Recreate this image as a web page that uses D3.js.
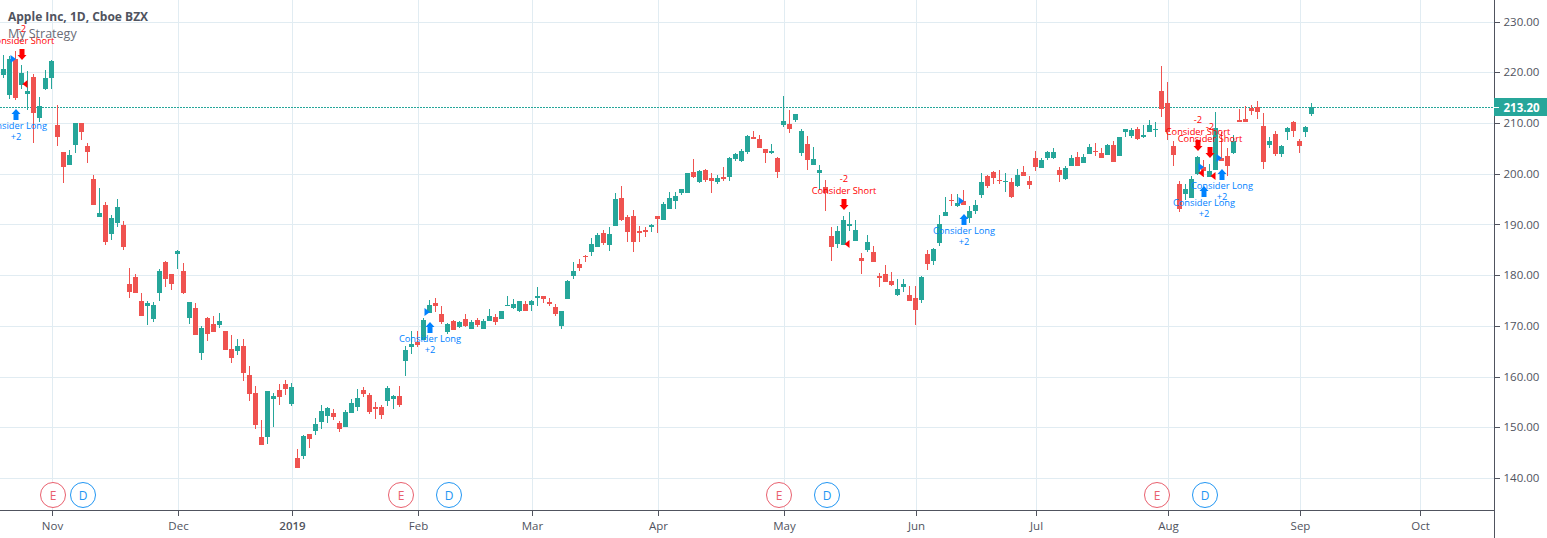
<!DOCTYPE html>
<html>
<head>
<meta charset="utf-8">
<script src="https://cdn.jsdelivr.net/npm/d3@7/dist/d3.min.js"></script>
<style>
  html, body { margin: 0; padding: 0; background: #fff; overflow: hidden; }
  text { font-family: "Open Sans", sans-serif; }
</style>
</head>
<body>
<svg id="chart" width="1547" height="538"></svg>
<script>
// Daily candles, AAPL
const opens = [
  219.55,215.61,222.64,217.58,215.81,219.16,211.08,216.79,218.96,209.69,
  204.37,201.81,205.75,210.09,205.55,199.05,191.56,193.92,188.20,190.37,
  189.98,178.34,179.72,174.99,174.01,171.44,176.57,182.68,180.32,184.26,
  180.91,171.64,173.61,164.74,171.64,170.46,170.26,169.08,165.53,165.13,
  166.12,160.40,156.85,148.18,148.18,155.67,157.44,158.63,154.68,144.04,
  144.43,148.77,149.36,151.14,152.32,152.91,150.94,150.15,152.91,154.10,
  157.45,156.46,154.10,154.10,155.28,155.68,156.27,163.17,165.93,166.91,
  167.31,172.63,174.60,172.43,168.89,171.05,169.87,171.45,169.48,171.25,
  169.48,171.05,171.84,171.45,174.01,173.62,173.03,174.41,174.21,175.59,
  175.98,174.80,173.82,170.07,175.39,179.93,182.29,183.94,184.66,185.65,
  188.41,186.04,189.79,195.31,191.56,191.76,188.80,189.00,189.59,191.76,
  190.97,193.14,194.72,196.29,196.29,200.43,198.46,200.83,199.25,198.46,
  199.45,199.45,203.00,202.60,204.38,207.33,206.94,204.97,204.18,203.19,
  209.70,209.90,210.69,204.18,205.95,201.81,200.24,197.48,187.81,186.24,
  186.04,189.79,186.83,183.48,185.05,184.66,179.93,180.32,178.94,176.18,
  177.76,176.18,175.59,175.20,184.27,182.89,186.43,191.76,194.91,193.73,
  194.72,191.36,192.74,195.90,199.64,200.43,198.86,198.46,198.46,197.67,
  200.43,198.66,203.19,201.22,203.19,203.19,200.83,199.05,201.62,203.39,
  202.21,203.98,204.57,204.18,203.79,205.76,203.59,208.32,207.53,208.91,
  207.34,208.32,208.72,216.40,214.03,205.55,198.06,196.09,195.30,200.03,
  201.41,199.44,200.82,203.19,203.58,204.17,210.68,210.88,213.05,213.24,
  209.50,205.75,207.92,203.98,208.31,210.29,206.54,208.31,211.86
];
const highs = [
  223.50,223.30,224.28,221.52,220.34,219.75,215.22,220.54,222.51,213.64,
  204.37,204.77,210.09,210.09,206.15,199.84,197.27,194.51,191.95,195.11,
  190.77,181.50,180.32,176.57,174.99,174.79,181.30,182.88,180.32,185.05,
  182.48,174.79,174.60,170.06,171.84,172.03,172.63,169.08,168.29,167.50,
  167.50,162.18,158.23,151.53,157.25,156.85,158.63,159.42,158.83,145.81,
  148.57,148.77,151.92,154.49,154.09,153.70,151.33,153.51,155.67,157.65,
  158.04,156.86,155.08,154.49,158.24,156.46,158.24,166.13,169.08,169.08,
  171.65,175.20,175.59,174.01,170.66,171.25,171.05,172.43,171.25,171.65,
  171.45,173.42,172.43,173.03,175.98,175.39,175.00,175.00,175.20,177.76,
  175.98,175.59,174.41,173.03,179.14,182.69,183.28,184.07,187.42,188.41,
  189.00,189.59,196.29,197.67,191.95,192.94,189.79,189.59,190.18,191.76,
  194.52,196.49,196.49,197.08,200.24,203.00,200.83,201.02,200.24,199.84,
  201.42,203.39,204.18,204.97,207.73,208.52,207.73,204.97,205.95,203.39,
  215.42,212.66,211.87,208.91,207.53,205.36,201.81,198.86,189.59,189.79,
  191.76,192.55,190.97,184.46,188.01,185.84,180.52,182.10,180.72,179.34,
  179.34,177.96,177.96,179.93,185.05,185.45,191.95,195.50,196.10,196.10,
  196.88,193.73,194.91,200.24,199.84,200.63,200.83,200.24,199.25,201.03,
  201.62,199.65,204.57,203.19,204.57,205.17,201.42,201.62,203.79,204.38,
  203.98,205.95,206.15,205.17,205.95,206.55,207.34,208.91,209.11,209.31,
  209.70,210.69,210.29,221.33,218.17,206.54,198.65,198.06,199.64,203.58,
  202.79,202.01,212.26,208.31,205.16,207.72,212.85,213.44,213.64,214.43,
  212.06,207.33,208.51,205.75,209.30,210.48,206.93,209.50,214.03
];
const lows = [
  219.03,214.82,214.62,216.79,212.65,206.15,210.29,216.60,216.79,205.55,
  198.26,201.81,204.17,206.74,202.20,193.92,191.56,186.04,187.02,189.58,
  185.05,175.58,176.57,172.03,170.26,170.85,174.99,177.75,177.16,181.30,
  176.37,170.46,168.29,163.36,167.11,168.88,169.67,165.33,162.77,164.35,
  159.22,155.28,149.76,146.60,146.80,150.15,154.49,156.46,154.29,142.07,
  143.84,146.01,148.57,149.76,150.94,151.53,149.16,150.15,152.91,153.31,
  156.07,152.72,151.73,151.73,154.30,153.70,154.10,160.21,164.55,165.93,
  167.31,172.63,172.83,170.46,168.49,169.28,169.67,169.87,169.48,169.87,
  169.48,171.05,170.27,171.45,174.01,173.42,172.83,173.03,173.03,174.01,
  174.60,174.01,172.04,169.48,175.39,179.34,180.91,182.69,183.87,185.65,
  186.04,184.86,189.79,190.77,186.63,184.66,186.63,187.62,188.60,188.41,
  190.97,193.14,193.14,195.90,196.29,199.25,198.26,198.46,196.29,198.07,
  198.66,198.66,202.60,202.40,203.98,206.94,205.16,202.21,203.98,199.25,
  209.31,208.12,210.29,203.59,200.83,201.81,196.88,192.74,182.89,185.45,
  186.04,188.80,186.83,180.32,184.66,182.69,177.76,178.75,177.96,175.98,
  176.77,175.00,170.27,174.61,181.11,182.10,185.84,191.76,193.73,193.53,
  193.93,190.38,192.15,195.31,197.28,198.07,198.07,196.49,195.31,197.48,
  199.65,197.08,200.63,201.22,202.80,203.00,198.46,198.86,201.62,201.62,
  202.21,203.98,203.59,203.19,203.79,202.41,203.59,207.34,207.14,206.74,
  207.14,208.32,207.34,211.27,206.74,201.61,192.54,194.91,195.30,199.84,
  199.44,199.44,200.82,202.60,199.64,203.98,210.29,210.29,211.67,210.88,
  201.02,205.16,203.58,203.39,206.74,207.33,204.17,207.33,211.47
];
const closes = [
  220.74,222.64,215.02,219.95,216.40,212.06,213.44,218.96,222.31,207.33,
  201.41,203.78,210.09,208.31,204.37,193.92,192.35,186.63,191.36,193.53,
  185.64,176.77,176.57,172.03,174.60,174.20,180.91,179.33,178.34,184.85,
  176.57,174.79,168.29,169.67,168.49,168.88,171.05,165.33,163.75,166.12,
  160.80,156.66,150.54,146.60,157.25,156.26,156.06,157.64,158.04,142.07,
  148.38,147.78,150.74,153.30,153.90,152.12,149.76,153.11,154.89,155.87,
  156.66,153.11,153.70,152.52,157.85,156.27,154.49,165.34,166.52,166.32,
  171.25,174.21,174.01,170.86,170.46,169.28,170.86,170.07,170.86,170.27,
  171.05,172.04,170.86,173.03,174.21,174.41,175.00,173.03,175.00,175.98,
  175.39,174.41,172.43,173.03,178.94,180.91,181.51,183.67,186.24,188.01,
  186.43,188.21,195.11,190.97,188.60,186.63,188.41,188.60,189.98,191.17,
  194.12,195.31,195.70,197.08,200.24,199.45,200.63,198.86,198.66,199.25,
  199.05,203.19,203.98,204.57,207.53,206.94,205.16,204.18,204.57,200.43,
  210.49,208.91,211.87,208.52,202.80,203.00,200.83,196.29,185.65,188.80,
  190.97,190.18,189.00,182.89,186.63,182.69,179.53,178.75,178.15,177.37,
  178.35,175.00,173.22,179.73,182.29,185.25,190.18,192.55,194.72,194.32,
  193.93,192.74,193.93,198.46,197.67,199.25,198.66,198.66,195.51,199.84,
  199.65,197.87,201.42,202.80,204.38,204.38,199.84,201.22,203.19,201.62,
  203.39,205.36,204.38,203.19,205.76,202.41,207.34,208.91,208.72,206.94,
  207.73,209.70,208.91,212.85,208.31,203.78,193.13,197.08,199.05,203.39,
  200.63,200.63,209.10,202.60,201.61,206.54,210.29,210.29,212.45,212.26,
  202.40,206.54,203.98,205.55,209.10,208.51,205.55,209.30,213.20
];

const priceTicks = [140, 150, 160, 170, 180, 190, 200, 210, 220, 230];
const monthBars = [8, 29, 48, 69, 88, 109, 130, 152, 172, 194, 216, 236];
const monthLabels = ["Nov", "Dec", "2019", "Feb", "Mar", "Apr", "May", "Jun", "Jul", "Aug", "Sep", "Oct"];

const lastPrice = 213.2;

// Strategy signals: bar index and price of the arrow tip
const shortBars = [3, 140, 199, 201];
const shortPrices = [222.51, 192.94, 204.57, 203.19];
const longBars = [2, 71, 160, 200, 203];
const longPrices = [212.85, 170.86, 192.15, 197.67, 201.02];

// Little entry triangles
const longEntryBars = [2, 71, 160, 200, 203];
const longEntryPrices = [222.71, 172.83, 194.71, 201.42, 203.19];
const shortEntryBars = [4, 141, 200, 202];
const shortEntryPrices = [217.78, 186.23, 200.23, 199.64];

// Earnings and dividend circles
const earningsBars = [8, 66, 129, 192];
const dividendBars = [13, 74, 137, 200];

const upColor = "#26a69a";
const downColor = "#ef5350";
const gridColor = "#e1ecf2";
const axisColor = "#50535e";
const shortColor = "#ff0000";
const longColor = "#0082ff";

const svg = d3.select("#chart");
const plotRight = 1494;
const plotBottom = 510;

// Set up the scales
const x = d3.scaleLinear().domain([0, 218]).range([3.5, 1311.5]);
const xGrid = d3.scaleLinear().domain([0, 218]).range([4.5, 1312.5]);
const y = d3.scaleLinear().domain([140, 230]).range([478.5, 22]);

// Grid
const grid = svg.append("g").attr("shape-rendering", "crispEdges").attr("stroke", gridColor);
grid.selectAll(".h").data(priceTicks).enter().append("line")
  .attr("x1", 0).attr("x2", plotRight)
  .attr("y1", (d) => y(d)).attr("y2", (d) => y(d));
grid.selectAll(".v").data(monthBars).enter().append("line")
  .attr("x1", (d) => xGrid(d)).attr("x2", (d) => xGrid(d))
  .attr("y1", 0).attr("y2", plotBottom);

// Current price line
svg.append("line")
  .attr("x1", 0).attr("x2", plotRight)
  .attr("y1", y(lastPrice)).attr("y2", y(lastPrice))
  .attr("stroke", upColor)
  .attr("stroke-dasharray", "2,1")
  .attr("shape-rendering", "crispEdges");

// Candles
const bars = d3.range(opens.length);
const candles = svg.append("g").attr("shape-rendering", "crispEdges");
candles.selectAll("line").data(bars).enter().append("line")
  .attr("x1", (i) => x(i)).attr("x2", (i) => x(i))
  .attr("y1", (i) => y(highs[i])).attr("y2", (i) => y(lows[i]))
  .attr("stroke", (i) => (closes[i] >= opens[i] ? upColor : downColor));
candles.selectAll("rect").data(bars).enter().append("rect")
  .attr("x", (i) => x(i) - 2.5)
  .attr("width", 5)
  .attr("y", (i) => y(Math.max(opens[i], closes[i])))
  .attr("height", (i) => Math.max(1, Math.abs(y(opens[i]) - y(closes[i]))))
  .attr("fill", (i) => (closes[i] >= opens[i] ? upColor : downColor));

// Entry triangles
const triangle = (points) => "M" + points.join("L") + "Z";
svg.selectAll(".long-entry").data(longEntryBars).enter().append("path")
  .attr("d", (d, i) => {
    const px = x(d) + 0.5, py = y(longEntryPrices[i]);
    return triangle([[px, py], [px - 5.5, py - 4], [px - 5.5, py + 4]]);
  })
  .attr("fill", longColor);
svg.selectAll(".short-entry").data(shortEntryBars).enter().append("path")
  .attr("d", (d, i) => {
    const px = x(d), py = y(shortEntryPrices[i]);
    return triangle([[px - 5, py], [px, py - 4], [px, py + 4]]);
  })
  .attr("fill", shortColor);

// Arrows with their labels, dir is 1 for long (tip on top) and -1 for short
function drawSignals(barList, priceList, dir, color, label, size) {
  const g = svg.append("g").selectAll("g").data(barList).enter().append("g")
    .attr("transform", (d, i) => `translate(${x(d) + 0.5},${y(priceList[i])})`);
  const head = dir * 5, tail = dir * 11;
  g.append("path")
    .attr("d", `M0,0L4.5,${head}L2.5,${head}L2.5,${tail}L-2.5,${tail}L-2.5,${head}L-4.5,${head}Z`)
    .attr("fill", color);
  g.append("text")
    .attr("y", dir > 0 ? 20 : -15.5)
    .attr("text-anchor", "middle")
    .attr("font-size", 9.3)
    .attr("fill", color)
    .text(label);
  g.append("text")
    .attr("y", dir > 0 ? 31 : -28)
    .attr("text-anchor", "middle")
    .attr("font-size", 9.3)
    .attr("fill", color)
    .text(size);
}
drawSignals(longBars, longPrices, 1, longColor, "Consider Long", "+2");
drawSignals(shortBars, shortPrices, -1, shortColor, "Consider Short", "-2");

// Earnings and dividend badges
function drawBadges(barList, letter, color) {
  const g = svg.append("g").selectAll("g").data(barList).enter().append("g")
    .attr("transform", (d) => `translate(${x(d) + 1.5},495)`);
  g.append("circle").attr("r", 12.5).attr("fill", "#fff").attr("stroke", color);
  g.append("text")
    .attr("y", 4.5)
    .attr("text-anchor", "middle")
    .attr("font-size", 12)
    .attr("fill", color)
    .text(letter);
}
drawBadges(earningsBars, "E", "#e9606e");
drawBadges(dividendBars, "D", "#2196f3");

// Axes
svg.append("rect").attr("x", plotRight + 0.5).attr("y", 0).attr("width", 53).attr("height", 538).attr("fill", "#fff");
svg.append("rect").attr("x", 0).attr("y", plotBottom + 0.5).attr("width", 1547).attr("height", 28).attr("fill", "#fff");

const yAxis = svg.append("g")
  .attr("transform", `translate(${plotRight + 0.5},0)`)
  .call(d3.axisRight(y).tickValues(priceTicks).tickFormat(d3.format(".2f")).tickSize(5).tickPadding(4).offset(0));
const xAxis = svg.append("g")
  .attr("transform", `translate(0,${plotBottom + 0.5})`)
  .call(d3.axisBottom(xGrid).tickValues(monthBars).tickFormat((d, i) => monthLabels[i]).tickSize(5).tickPadding(3).offset(0));

svg.selectAll(".domain").remove();
svg.selectAll(".tick line").attr("stroke", axisColor).attr("shape-rendering", "crispEdges");
svg.selectAll(".tick text").attr("fill", axisColor).attr("font-size", 11.5).attr("font-family", '"Open Sans", sans-serif');
xAxis.selectAll(".tick text")
  .attr("font-weight", (d, i) => (monthLabels[i] === "2019" ? 600 : 400))
  .attr("dy", "1em");

svg.append("g").attr("shape-rendering", "crispEdges").attr("stroke", axisColor)
  .call((g) => {
    g.append("line").attr("x1", plotRight + 0.5).attr("x2", plotRight + 0.5).attr("y1", 0).attr("y2", 538);
    g.append("line").attr("x1", 0).attr("x2", plotRight + 0.5).attr("y1", plotBottom + 0.5).attr("y2", plotBottom + 0.5);
  });

// Last price label
const lastY = y(lastPrice);
svg.append("rect")
  .attr("x", plotRight).attr("y", lastY - 9).attr("width", 53).attr("height", 18)
  .attr("fill", upColor).attr("shape-rendering", "crispEdges");
svg.append("line")
  .attr("x1", plotRight).attr("x2", plotRight + 5).attr("y1", lastY).attr("y2", lastY)
  .attr("stroke", "#fff").attr("shape-rendering", "crispEdges");
svg.append("text")
  .attr("x", plotRight + 9.5).attr("y", lastY + 4.5)
  .attr("font-size", 11.5).attr("font-weight", 700).attr("fill", "#fff")
  .text(lastPrice.toFixed(2));

// Legend
svg.append("text").attr("x", 8).attr("y", 20.5)
  .attr("font-size", 12).attr("font-weight", 700).attr("fill", "#50535e")
  .text("Apple Inc, 1D, Cboe BZX");
svg.append("text").attr("x", 8).attr("y", 38)
  .attr("font-size", 12.5).attr("fill", "#6a6d78")
  .text("My Strategy");
</script>
</body>
</html>
